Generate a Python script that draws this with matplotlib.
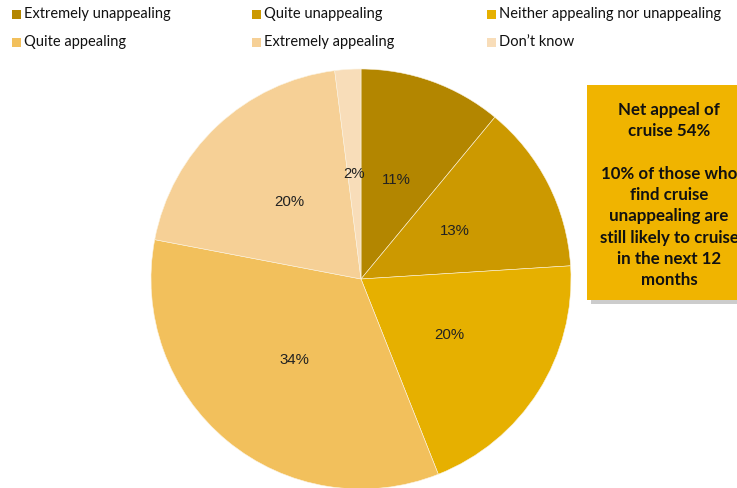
import matplotlib.pyplot as plt
from matplotlib.patches import Rectangle

# data
categories = ['Extremely unappealing', 'Quite unappealing', 'Neither appealing nor unappealing',
              'Quite appealing', 'Extremely appealing', 'Don\u2019t know']
shares = [11, 13, 20, 34, 20, 2]
colors = ['#B38600', '#CC9900', '#E6B000', '#F2C05C', '#F6D096', '#F8DDB9']
note = 'Net appeal of\ncruise 54%\n\n10% of those who\nfind cruise\nunappealing are\nstill likely to cruise\nin the next 12\nmonths'

plt.rcParams['font.family'] = ['Lato', 'DejaVu Sans']

fig = plt.figure(figsize=(7.37, 4.88), dpi=100)
W, H = 737, 488

# pie
ax = fig.add_axes([(361 - 210) / W, (488 - 279 - 210) / H, 420 / W, 420 / H])
wedges, texts, autotexts = ax.pie(
    shares, colors=colors, startangle=90, counterclock=False,
    autopct=lambda p: f'{p:.0f}%', pctdistance=0.5, radius=1,
    wedgeprops=dict(edgecolor='#fbf3e0', linewidth=0.4),
    textprops=dict(fontsize=10.8, family='Liberation Sans', color='#222222'))
ax.set_xlim(-1, 1)
ax.set_ylim(-1, 1)
ax.set_aspect('equal')
ax.axis('off')

# legend, row-wise, drawn by hand
col_x = [12, 252, 487]
row_y = [14, 42]
for i, (name, c) in enumerate(zip(categories, colors)):
    x = col_x[i % 3]
    y = row_y[i // 3]
    fig.patches.append(Rectangle((x / W, (H - y - 4.5) / H), 9 / W, 9 / H,
                                 transform=fig.transFigure, facecolor=c, edgecolor='none'))
    fig.text((x + 12) / W, (H - y) / H, name, fontsize=10.5, va='center', ha='left', color='#111111')

# note box with shadow
fig.patches.append(Rectangle((591 / W, (H - 304) / H), 170 / W, 215 / H,
                             transform=fig.transFigure, facecolor='#9a9a9a', edgecolor='none', alpha=0.5))
fig.patches.append(Rectangle((587 / W, (H - 300) / H), 170 / W, 215 / H,
                             transform=fig.transFigure, facecolor='#F0B400', edgecolor='none'))
fig.text(669 / W, (H - 195) / H, note, fontsize=12.2, fontweight='bold', ha='center', va='center',
         linespacing=1.41, color='#111111')

fig.savefig('out.png', dpi=100)
